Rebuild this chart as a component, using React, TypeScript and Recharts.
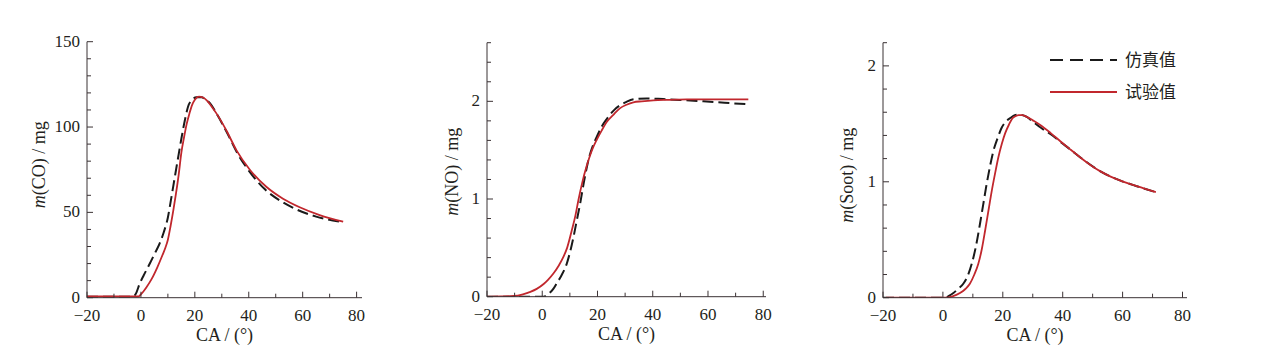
import { LineChart, Line, XAxis, YAxis } from 'recharts';

// 曲柄转角 CA（°）与排放质量，读自原图
const coSimCA = [-20, -10, -3, -2, -0.4, 1, 3.3, 5, 7, 8.5, 10, 11, 12.6, 14, 15.1, 16.3, 17.5, 19, 20.6, 22.5, 24, 25.6, 28, 32, 36, 40, 46, 52, 58, 65, 73.7];
const coSimVal = [0.5, 0.5, 0.5, 2, 8.4, 13, 20, 25.5, 32, 38.5, 47, 56, 71, 84, 94, 104, 112, 116, 117.4, 117.4, 116, 114, 108, 96.5, 84, 74.5, 63.5, 56.5, 51.5, 47.5, 44.5];
const coTestCA = [-20, -10, -1, 0, 2, 4, 6, 8, 9, 10, 11, 12, 13, 14, 15, 16, 17, 18, 19, 20, 21.5, 23, 24.5, 26, 28, 31.7, 35.4, 40.4, 46.5, 52.7, 58.9, 66.3, 75];
const coTestVal = [0.7, 0.7, 0.7, 2, 6, 11, 17.5, 25, 29, 34, 42, 51, 61, 72, 85, 94, 102, 108, 113, 116, 117.8, 117.3, 115.5, 112.5, 108, 98, 86.5, 75, 65, 58, 53, 48.4, 44.5];

const noSimCA = [-20, -10, -5, 0.5, 2.3, 4, 5.3, 7, 8.9, 10, 11.3, 12.5, 13.7, 15, 16.1, 17, 18, 19.8, 21.5, 23.4, 26, 28.2, 30.5, 33, 37.8, 42, 46.3, 52, 58.3, 66, 74.6];
const noSimVal = [0, 0, 0, 0, 0.03, 0.08, 0.14, 0.22, 0.34, 0.45, 0.61, 0.78, 0.95, 1.16, 1.32, 1.43, 1.52, 1.64, 1.74, 1.82, 1.91, 1.96, 1.995, 2.02, 2.03, 2.025, 2.02, 2.01, 2.0, 1.985, 1.97];
const noTestCA = [-20, -15, -10.4, -7, -4.3, -2, 0.5, 2, 4.1, 6, 7.7, 9, 10.7, 12, 13.1, 14.5, 16.1, 17, 18, 19.8, 21.5, 23.4, 26, 28.2, 30.5, 33, 36, 40.2, 46, 52.3, 60, 74.6];
const noTestVal = [0, 0.002, 0.007, 0.025, 0.05, 0.08, 0.13, 0.17, 0.24, 0.32, 0.41, 0.5, 0.68, 0.83, 0.99, 1.17, 1.34, 1.42, 1.5, 1.61, 1.7, 1.79, 1.87, 1.93, 1.965, 1.99, 2.0, 2.01, 2.015, 2.02, 2.02, 2.02];

const sootSimCA = [-20, 0.7, 2, 3.5, 5, 6.8, 8.3, 9.6, 11, 12.4, 13.5, 14.6, 15.7, 16.9, 18.3, 19.7, 21, 22.5, 24, 25.3, 26.5, 28, 30, 32.5, 36, 39.2, 42.5, 45.9, 52.6, 59.3, 65, 70.5];
const sootSimVal = [0, 0, 0.015, 0.04, 0.075, 0.12, 0.19, 0.29, 0.44, 0.64, 0.81, 0.98, 1.13, 1.27, 1.38, 1.47, 1.52, 1.55, 1.575, 1.58, 1.575, 1.56, 1.52, 1.47, 1.41, 1.345, 1.28, 1.21, 1.09, 1.01, 0.96, 0.915];
const sootTestCA = [-19, 1.2, 3, 5.7, 7.5, 9, 10.5, 11.8, 13, 14.1, 15.2, 16.3, 17.4, 18.5, 19.7, 20.8, 22, 23, 24.2, 25.3, 26.5, 28, 30, 32.5, 36, 39.2, 42.5, 45.9, 49, 52.6, 56, 59.3, 65, 71.1];
const sootTestVal = [0, 0, 0.01, 0.04, 0.075, 0.12, 0.2, 0.29, 0.42, 0.58, 0.75, 0.92, 1.07, 1.21, 1.33, 1.42, 1.49, 1.54, 1.565, 1.575, 1.575, 1.56, 1.53, 1.49, 1.42, 1.35, 1.28, 1.21, 1.15, 1.09, 1.045, 1.01, 0.96, 0.91];

const xTicks = [-20, -10, 0, 10, 20, 30, 40, 50, 60, 70, 80];
const xLabels = [-20, 0, 20, 40, 60, 80];
const coTicks = [0, 10, 20, 30, 40, 50, 60, 70, 80, 90, 100, 110, 120, 130, 140, 150];
const coLabels = [0, 50, 100, 150];
const noTicks = [0, 0.2, 0.4, 0.6, 0.8, 1, 1.2, 1.4, 1.6, 1.8, 2, 2.2, 2.4, 2.6];
const noLabels = [0, 1, 2];
const sootTicks = [0, 0.2, 0.4, 0.6, 0.8, 1, 1.2, 1.4, 1.6, 1.8, 2, 2.2];
const sootLabels = [0, 1, 2];

const SIM_NAME = '仿真值';
const TEST_NAME = '试验值';

const AXIS = '#3b3234';
const TEXT = '#231f20';
const SIM_COLOR = '#1a1a1a';
const TEST_COLOR = '#c1272d';
const SERIF = '"Liberation Serif", "Times New Roman", serif';
const CJK = '"Noto Sans CJK SC", sans-serif';
const FS = 18;
const TICK_FS = 17;

const toRows = (ca: number[], v: number[]) => ca.map((c, i) => ({ ca: c, v: v[i] }));
const fmt = (v: number) => (v < 0 ? '\u2212' + Math.abs(v) : String(v));

const makeXTick = (labels: number[]) => (props: any) => {
  const { x, y, payload } = props;
  const major = labels.includes(payload.value);
  return (
    <g>
      <line x1={x} y1={y} x2={x} y2={y - (major ? 6 : 4)} stroke={AXIS} />
      {major && (
        <text x={x} y={y + 23} textAnchor="middle" fill={TEXT} fontFamily={SERIF} fontSize={TICK_FS}>
          {fmt(payload.value)}
        </text>
      )}
    </g>
  );
};

const makeYTick = (labels: number[]) => (props: any) => {
  const { x, y, payload } = props;
  const major = labels.includes(payload.value);
  return (
    <g>
      <line x1={x} y1={y} x2={x + (major ? 6 : 4)} y2={y} stroke={AXIS} />
      {major && (
        <text x={x - 7} y={y} dy="0.3em" textAnchor="end" fill={TEXT} fontFamily={SERIF} fontSize={TICK_FS}>
          {fmt(payload.value)}
        </text>
      )}
    </g>
  );
};

const makeYLabel = (name: string, dx: number, dy: number) => (props: any) => {
  const { x, y, width, height } = props.viewBox;
  const cx = x + width - dx;
  const cy = y + height / 2 + dy;
  return (
    <text
      transform={`translate(${cx},${cy}) rotate(-90)`}
      textAnchor="middle"
      dy="0.35em"
      fill={TEXT}
      fontFamily={SERIF}
      fontSize={FS}
    >
      <tspan fontStyle="italic">m</tspan>({name}) / mg
    </text>
  );
};

function LegendBox() {
  return (
    <svg width={180} height={80} style={{ position: 'absolute', left: 1050, top: 40 }}>
      <line x1={0} y1={20} x2={67} y2={20} stroke={SIM_COLOR} strokeWidth={2} strokeDasharray="13 7" />
      <text x={75} y={20} dy="0.35em" fill={TEXT} fontFamily={CJK} fontSize={17}>{SIM_NAME}</text>
      <line x1={0} y1={52} x2={67} y2={52} stroke={TEST_COLOR} strokeWidth={2} />
      <text x={75} y={52} dy="0.35em" fill={TEXT} fontFamily={CJK} fontSize={17}>{TEST_NAME}</text>
    </svg>
  );
}

interface PanelProps {
  left: number;
  width: number;
  plotLeft: number;
  plotTop: number;
  plotW: number;
  plotH: number;
  xMax: number;
  yMax: number;
  yTicks: number[];
  yLabels: number[];
  name: string;
  labelDx: number;
  labelDy: number;
  sim: { ca: number; v: number }[];
  test: { ca: number; v: number }[];
}

function Panel(p: PanelProps) {
  // 轴占 1px，边距据此扣除
  const margin = {
    top: p.plotTop,
    left: p.plotLeft - p.left - 1,
    right: p.left + p.width - p.plotLeft - p.plotW,
    bottom: 356 - p.plotTop - p.plotH - 1,
  };
  return (
    <div style={{ position: 'absolute', left: p.left, top: 0 }}>
      <LineChart width={p.width} height={356} margin={margin}>
        <XAxis
          type="number"
          dataKey="ca"
          domain={[-20, p.xMax]}
          ticks={xTicks}
          interval={0}
          height={1}
          tickSize={0}
          tickMargin={0}
          tickLine={false}
          stroke={AXIS}
          tick={makeXTick(xLabels)}
          allowDataOverflow
          label={{ value: 'CA / (°)', position: 'bottom', offset: 30, fill: TEXT, fontFamily: SERIF, fontSize: FS }}
        />
        <YAxis
          type="number"
          domain={[0, p.yMax]}
          ticks={p.yTicks}
          interval={0}
          width={1}
          tickSize={0}
          tickMargin={0}
          tickLine={false}
          stroke={AXIS}
          tick={makeYTick(p.yLabels)}
          allowDataOverflow
          label={{ content: makeYLabel(p.name, p.labelDx, p.labelDy) }}
        />
        <Line
          data={p.sim}
          dataKey="v"
          name={SIM_NAME}
          type="monotone"
          stroke={SIM_COLOR}
          strokeWidth={2}
          strokeDasharray="11 5"
          dot={false}
          activeDot={false}
          isAnimationActive={false}
        />
        <Line
          data={p.test}
          dataKey="v"
          name={TEST_NAME}
          type="monotone"
          stroke={TEST_COLOR}
          strokeWidth={1.8}
          dot={false}
          activeDot={false}
          isAnimationActive={false}
        />
      </LineChart>
    </div>
  );
}

export default function App() {
  return (
    <div style={{ position: 'absolute', left: 0, top: 0, width: 1267, height: 356, background: '#fff' }}>
      <Panel
        left={0}
        width={400}
        plotLeft={87}
        plotTop={41.7}
        plotW={275}
        plotH={256}
        xMax={82}
        yMax={150}
        yTicks={coTicks}
        yLabels={coLabels}
        name="CO"
        labelDx={48}
        labelDy={-5}
        sim={toRows(coSimCA, coSimVal)}
        test={toRows(coTestCA, coTestVal)}
      />
      <Panel
        left={400}
        width={400}
        plotLeft={487}
        plotTop={42.7}
        plotW={279}
        plotH={254}
        xMax={81}
        yMax={2.6}
        yTicks={noTicks}
        yLabels={noLabels}
        name="NO"
        labelDx={35}
        labelDy={2}
        sim={toRows(noSimCA, noSimVal)}
        test={toRows(noTestCA, noTestVal)}
      />
      <Panel
        left={800}
        width={467}
        plotLeft={883}
        plotTop={42.7}
        plotW={304}
        plotH={255}
        xMax={81.5}
        yMax={2.2}
        yTicks={sootTicks}
        yLabels={sootLabels}
        name="Soot"
        labelDx={36}
        labelDy={5}
        sim={toRows(sootSimCA, sootSimVal)}
        test={toRows(sootTestCA, sootTestVal)}
      />
      <LegendBox />
    </div>
  );
}
